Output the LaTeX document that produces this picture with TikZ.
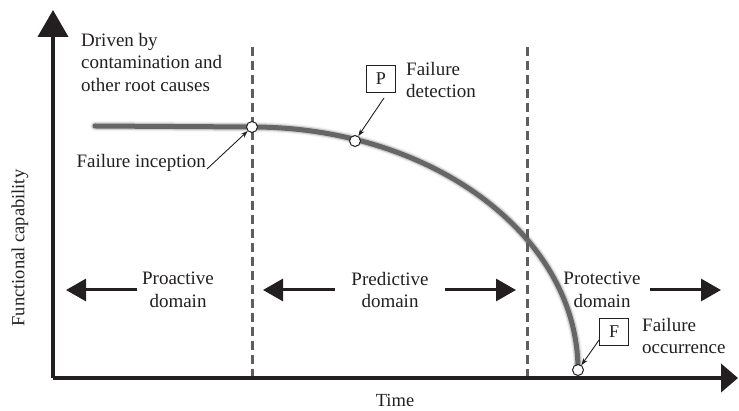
\documentclass[tikz,border=0pt]{standalone}
\usepackage{fontspec}
\setmainfont{Liberation Serif}
\usetikzlibrary{arrows.meta}
\definecolor{ink}{HTML}{231F20}
\definecolor{curvegray}{HTML}{5A5A5A}
\definecolor{dashgray}{HTML}{5E5E5E}
\begin{document}
\begin{tikzpicture}[x=1pt,y=-1pt,
  lbl/.style={text=ink,font=\fontsize{19}{22.5}\selectfont,inner sep=0pt},
  axislbl/.style={text=ink,font=\fontsize{18.5}{22}\selectfont,inner sep=0pt},
  axisline/.style={ink,line width=4pt},
  divider/.style={dashgray,line width=3pt,dash pattern=on 9pt off 5pt},
  domarrow/.style={ink,line width=3pt,-{Triangle[length=20pt,width=22pt]}},
  pointer/.style={ink,line width=0.9pt,-{Stealth[length=7pt,width=5pt]}},
  marker/.style={circle,draw=ink,fill=white,line width=1pt,minimum size=11pt,inner sep=0pt},
  tag/.style={draw=ink,fill=white,line width=0.9pt,minimum width=29pt,minimum height=27pt,inner sep=0pt,text=ink,font=\fontsize{18}{20}\selectfont}]
\useasboundingbox (0,0) rectangle (739,411);

% axes
\coordinate (origin) at (53,378);
\coordinate (ytop) at (53,10);
\coordinate (xend) at (738,378);
\draw[axisline,-{Triangle[length=27pt,width=30pt]}] (origin) -- (ytop);
\draw[axisline,-{Triangle[length=17pt,width=28pt]}] (origin) -- (xend);
\node[axislbl,rotate=90] (ylab) at (20,248) {Functional capability};
\node[axislbl] (xlab) at (395,400) {Time};

% domain boundaries
\coordinate (d1top) at (252,47);
\coordinate (d1bot) at (252,376);
\coordinate (d2top) at (527,47);
\coordinate (d2bot) at (527,376);
\draw[divider] (d1top) -- (d1bot);
\draw[divider] (d2top) -- (d2bot);

% capability curve: flat plateau, then an elliptic drop to failure
\foreach \w/\o in {10/0.08,7.5/0.22,5/0.9}{
  \draw[curvegray,line width=\w pt,opacity=\o,line cap=round]
    (95,126) -- (252,127) arc[start angle=-90,end angle=0,x radius=326,y radius=243];
}

% points on the curve
\node[marker] (incep) at (252,127) {};
\node[marker] (detect) at (355,141) {};
\node[marker] (occur) at (578,370) {};

% top-left note
\node[lbl,anchor=north west,align=left] (cause) at (81,33) {Driven by\\contamination and\\other root causes};

% failure inception
\node[lbl,anchor=east] (inceplab) at (206,163) {Failure inception};
\draw[pointer] (inceplab.east) ++(1,6) coordinate (ip0) (ip0) -- (incep);

% failure detection
\node[tag] (ptag) at (381,79) {P};
\node[lbl,anchor=west,align=left] (detlab) at (406,80) {Failure\\detection};
\draw[pointer] (ptag.south) ++(3,5) coordinate (pp0) (pp0) -- (detect);

% failure occurrence
\node[tag] (ftag) at (614,332) {F};
\node[lbl,anchor=west,align=left] (occlab) at (642,336) {Failure\\occurrence};
\draw[pointer] (ftag.west) ++(0,8) coordinate (fp0) (fp0) -- (occur);

% domains
\node[lbl,align=center] (proact) at (178,290) {Proactive\\domain};
\node[lbl,align=center] (predict) at (390,290) {Predictive\\domain};
\node[lbl,align=center] (protect) at (602,290) {Protective\\domain};
\coordinate (pa0) at (137,290);
\coordinate (pa1) at (66,290);
\coordinate (pl0) at (335,290);
\coordinate (pl1) at (263,290);
\coordinate (pr0) at (445,290);
\coordinate (pr1) at (516,290);
\coordinate (pt0) at (650,290);
\coordinate (pt1) at (721,290);
\draw[domarrow] (pa0) -- (pa1);
\draw[domarrow] (pl0) -- (pl1);
\draw[domarrow] (pr0) -- (pr1);
\draw[domarrow] (pt0) -- (pt1);
\end{tikzpicture}
\end{document}
